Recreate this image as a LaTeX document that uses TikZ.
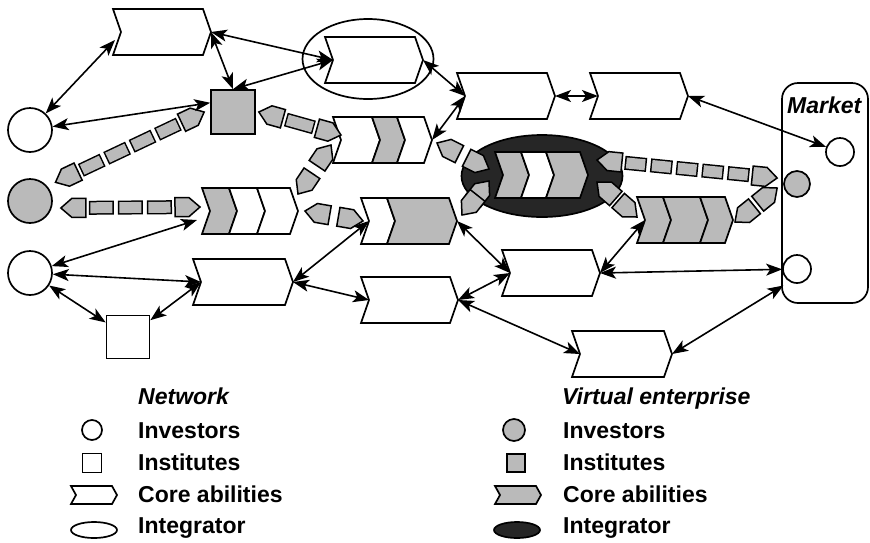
\documentclass[tikz,border=0pt]{standalone}
\usepackage{fontspec}
\setmainfont{Liberation Sans}
\usetikzlibrary{arrows.meta,calc,shapes.geometric}

\colorlet{vefill}{black!27}
\colorlet{intfill}{black!85}

\tikzset{
    link/.style={{Stealth[length=16pt,width=12pt,inset=4pt]}-{Stealth[length=16pt,width=12pt,inset=4pt]}, line width=1.6pt},
    abil/.style={draw, line width=1.7pt, line join=miter},
    inv/.style={circle, draw, line width=1.7pt, inner sep=0pt, minimum size=44pt},
    inst/.style={rectangle, draw, line width=1.7pt, inner sep=0pt, minimum size=44pt},
    flowhead/.style={draw, fill=vefill, line width=1.5pt, line join=miter},
    lbl/.style={font=\fontsize{23}{27}\selectfont\bfseries, anchor=base west, inner sep=0pt},
    head/.style={lbl, font=\fontsize{23}{27}\selectfont\bfseries\itshape},
}

% core ability: #1 name, #2 centre y, #3 x of the notch, #4 list tip/fill
\newcommand{\ability}[4]{%
    \coordinate (#1-in) at (#3,#2);
    \foreach \p/\f [remember=\p as \q (initially #3)] in {#4}{
        \filldraw[abil, fill=\f] ({\q-\dd},{#2-\hh}) -- ({\p-\dd},{#2-\hh}) -- (\p,#2)
            -- ({\p-\dd},{#2+\hh}) -- ({\q-\dd},{#2+\hh}) -- (\q,#2) -- cycle;
        \coordinate (#1-out) at (\p,#2);
    }%
}

% broad flow of the virtual enterprise: #1 and #2 are the two tips
\newcommand{\flow}[2]{%
    \coordinate (fa) at (#1);
    \coordinate (fb) at (#2);
    \coordinate (fa1) at ($(fa)!28pt!(fb)$);
    \coordinate (fb1) at ($(fb)!28pt!(fa)$);
    \path let \p1=($(fb)-(fa)$) in \pgfextra{%
        \pgfmathsetmacro\flowlen{veclen(\x1,\y1)-56}%
        \pgfmathsetmacro\flowon{\flowlen>8 ? 1 : 0}%
        \xdef\baron{\flowon}%
        \pgfmathsetmacro\flown{max(1,round((\flowlen+4)/28))}%
        \pgfmathsetmacro\flowseg{max(4,(\flowlen+4)/\flown-4)}%
        \xdef\seglen{\flowseg}%
        \pgfmathsetmacro\flowseg{\seglen-3}%
        \xdef\segin{\flowseg}};
    \draw[line width=14pt, draw opacity=\baron, dash pattern=on \seglen pt off 4pt] (fa1) -- (fb1);
    \draw[line width=11pt, vefill, draw opacity=\baron, dash pattern=on 0pt off 1.5pt on \segin pt off 5.5pt] (fa1) -- (fb1);
    \foreach \s/\t in {fa/fb, fb/fa}{
        \coordinate (h1) at ($(\s)!11pt!(\t)$);
        \coordinate (h2) at ($(\s)!25pt!(\t)$);
        \filldraw[flowhead] (\s) -- ($(h1)!9.5pt!90:(\s)$) -- ($(h2)!9.5pt!90:(\s)$)
            -- ($(h2)!9.5pt!-90:(\s)$) -- ($(h1)!9.5pt!-90:(\s)$) -- cycle;
    }%
}

\begin{document}
\begin{tikzpicture}[x=1pt, y=-1pt]
    \useasboundingbox (0,0) rectangle (870,542);

    \def\hh{23}   % half height of a core ability
    \def\dd{8}    % depth of notch and point

    % integrators
    \node[ellipse, draw, line width=1.7pt, minimum width=131pt, minimum height=80pt, inner sep=0pt] (nint) at (368,59) {};
    \node[ellipse, draw, fill=intfill, line width=1.7pt, minimum width=161pt, minimum height=82pt, inner sep=0pt] (vint) at (542,176) {};

    % market
    \node[draw, line width=1.7pt, rounded corners=16pt, minimum width=86pt, minimum height=220pt] (mkt) at (825,193) {};
    \node[head] (mktl) at (787,113) {Market};
    \node[inv, minimum size=28pt] (minv1) at (840,152) {};
    \node[inv, fill=vefill, minimum size=26pt] (mvinv) at (797,184) {};
    \node[inv, minimum size=28pt] (minv2) at (797,269) {};

    % investors and institutes
    \node[inv] (inv1) at (30,130) {};
    \node[inv, fill=vefill] (vinv1) at (30,201) {};
    \node[inv] (inv2) at (30,273) {};
    \node[inst, fill=vefill] (vinst) at (233,112) {};
    \node[inst, minimum size=43pt] (inst) at (128,337) {};

    % core abilities
    \ability{ca1}{32}{121}{211/white}
    \ability{ca2}{60}{333}{423/white}
    \ability{ca3}{96}{465}{555/white}
    \ability{ca4}{96}{598}{688/white}
    \ability{ca5}{211}{210}{237/vefill, 265/white, 298/white}
    \ability{ca6}{282}{201}{293/white}
    \ability{ca7}{140}{341}{380/white, 405/vefill, 432/white}
    \ability{ca8}{221}{369}{395/white, 457/vefill}
    \ability{ca9}{175}{503}{529/vefill, 554/white, 588/vefill}
    \ability{ca10}{220}{645}{671/vefill, 708/vefill, 733/vefill}
    \ability{ca11}{273}{510}{600/white}
    \ability{ca12}{300}{369}{458/white}
    \ability{ca13}{354}{580}{672/white}

    % flows of the virtual enterprise
    \flow{[shift={(8,-4)}]vinv1.40}{[xshift=-6pt]vinst.west}
    \flow{[shift={(8,7)}]vinv1.east}{[shift={(-10,-4)}]ca5-in}
    \flow{[xshift=3pt]vinst.east}{[yshift=5pt]ca7-in}
    \flow{[shift={(-10,5)}]ca7-in}{[shift={(0,-17)}]ca5-out}
    \flow{[xshift=7pt]ca5-out}{[shift={(-6,0)}]ca8-in}
    \flow{[shift={(5,3)}]ca7-out}{[shift={(-14,-6)}]ca9-in}
    \flow{[shift={(-14,6)}]ca9-in}{[shift={(5,-6)}]ca8-out}
    \flow{[shift={(9,-15)}]ca9-out}{[shift={(-6,-6)}]mvinv.west}
    \flow{[shift={(9,7)}]ca9-out}{[shift={(-8,-3)}]ca10-in}
    \flow{[shift={(2,2)}]ca10-out}{[shift={(-6,4)}]mvinv.west}

    % links of the network
    \draw[link] (inv1) -- ([shift={(-6,8)}]ca1-in);
    \draw[link] (ca1-out) -- (vinst.north);
    \draw[link] (ca2-in) -- (ca1-out);
    \draw[link] (ca2-in) -- (vinst.north);
    \draw[link] (vinst.158) -- (inv1);
    \draw[link] (ca2-out) -- (ca3-in);
    \draw[link] (ca3-in) -- (ca7-out);
    \draw[link] (ca3-out) -- (ca4-in);
    \draw[link] (ca4-out) -- (minv1);
    \draw[link] (inv2) -- ([shift={(-13,9)}]ca5-in);
    \draw[link] (inv2) -- (ca6-in);
    \draw[link] (inv2) -- (inst);
    \draw[link] (inst) -- (ca6-in);
    \draw[link] (ca6-out) -- (ca8-in);
    \draw[link] (ca6-out) -- (ca12-in);
    \draw[link] (ca8-out) -- (ca11-in);
    \draw[link] (ca12-out) -- (ca11-in);
    \draw[link] (ca12-out) -- (ca13-in);
    \draw[link] (ca11-out) -- (minv2);
    \draw[link] (ca13-out) -- ([shift={(-3,6)}]minv2.225);
    \draw[link] (ca10-in) -- (ca11-out);

    % legend
    \node[head] (lnet) at (138,404) {Network};
    \node[head] (lve) at (562,404) {Virtual enterprise};
    \node[inv, minimum size=20pt] (linv) at (92,430) {};
    \node[inst, minimum size=19pt] (linst) at (92,463) {};
    \node[ellipse, draw, line width=1.7pt, minimum width=46pt, minimum height=16pt, inner sep=0pt] (lint) at (94,530) {};
    \node[inv, fill=vefill, minimum size=22pt] (lvinv) at (514,430) {};
    \node[inst, fill=vefill, minimum size=18pt] (lvinst) at (516,463) {};
    \node[ellipse, draw, fill=intfill, line width=1.7pt, minimum width=46pt, minimum height=16pt, inner sep=0pt] (lvint) at (517,530) {};
    \def\hh{9}
    \def\dd{5}
    \ability{lca}{495}{76}{117/white}
    \ability{lvca}{495}{500}{541/vefill}
    \foreach \y/\t [count=\i] in {438/Investors, 470/Institutes, 502/Core abilities, 533/Integrator}{
        \node[lbl] (ln\i) at (138,\y) {\t};
        \node[lbl] (lv\i) at (563,\y) {\t};
    }
\end{tikzpicture}
\end{document}
